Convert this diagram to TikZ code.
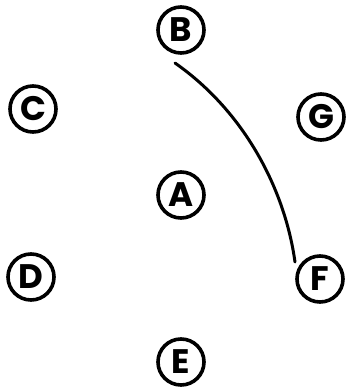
\documentclass[tikz,border=0pt]{standalone}
\usepackage{fontspec}
\setmainfont{Poppins}
\begin{document}
\begin{tikzpicture}[x=1pt,y=-1pt,
  vert/.style={circle,draw,line width=3.6pt,minimum size=46pt,inner sep=0pt,font=\fontsize{34}{34}\selectfont\bfseries},
  edge/.style={line width=3pt,line cap=round}]
\useasboundingbox (0,0) rectangle (348,391);
\node[vert] (B) at (181,30) {B};
\node[vert] (C) at (33,109) {C};
\node[vert] (G) at (321,117) {G};
\node[vert] (A) at (181,195) {A};
\node[vert] (D) at (31,277) {D};
\node[vert] (F) at (320,279) {F};
\node[vert] (E) at (181,362) {E};
\coordinate (b1) at (175,63);
\coordinate (f1) at (295,262);
\draw[edge] (b1) .. controls (245,112) and (285,190) .. (f1);
\end{tikzpicture}
\end{document}
